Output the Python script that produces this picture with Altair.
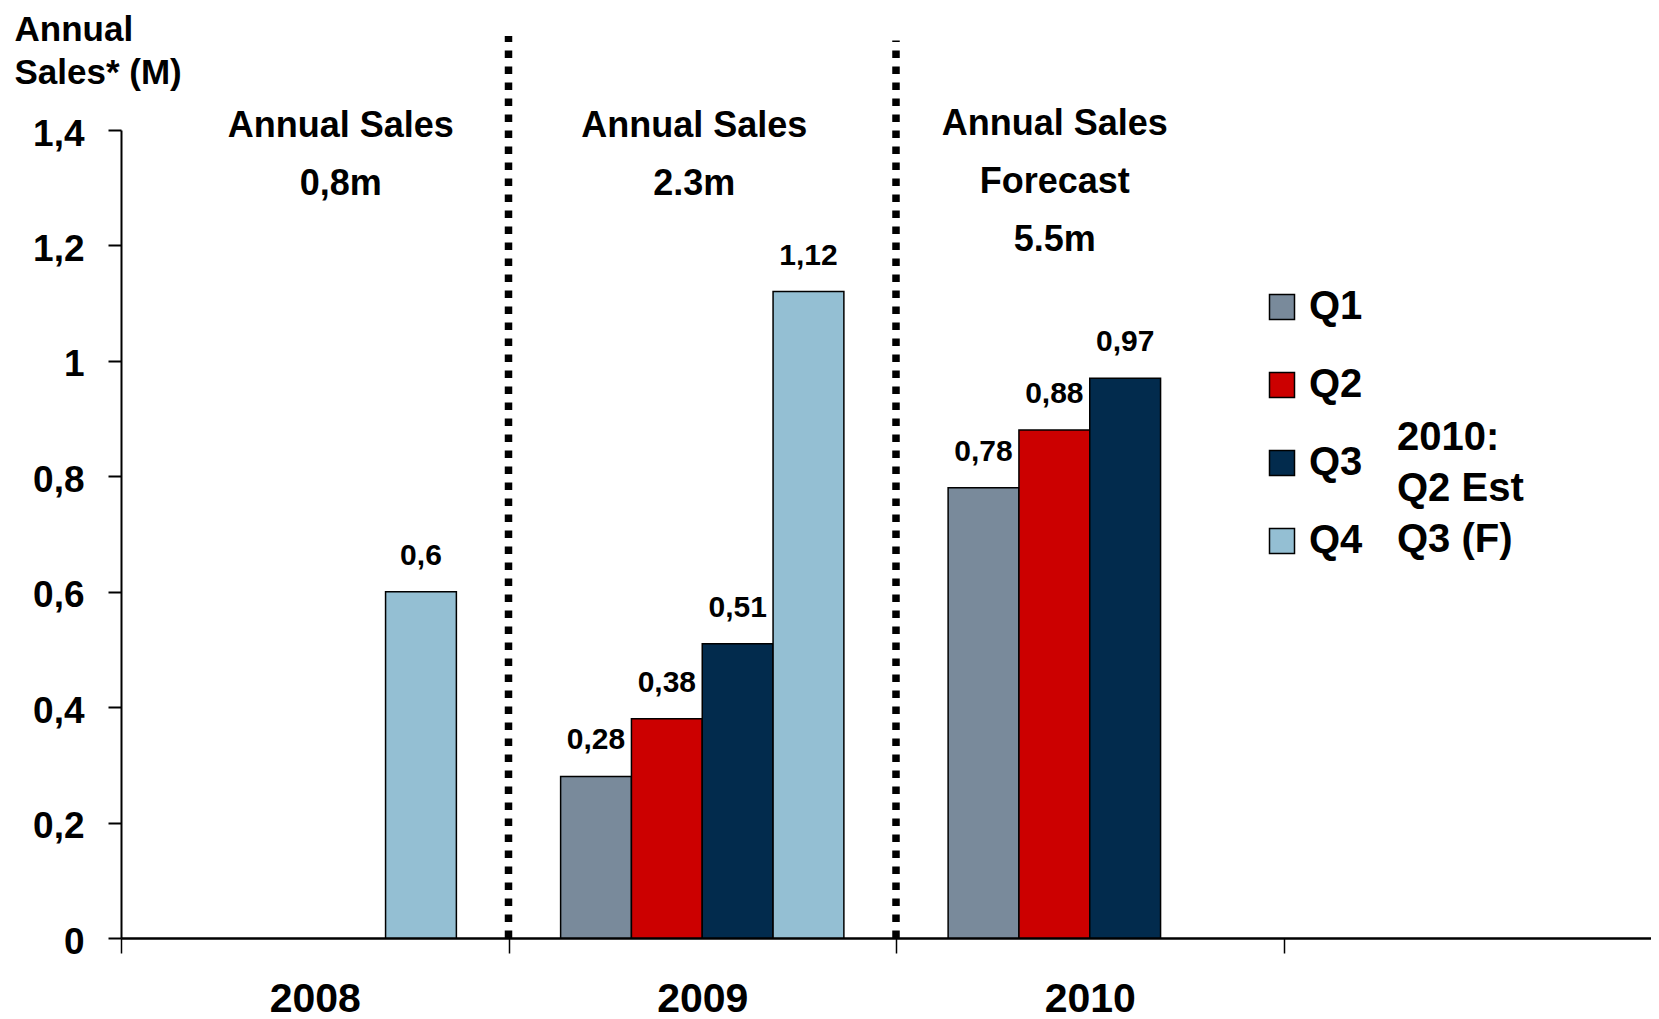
import altair as alt

FONT = "Liberation Sans"

# ---- data ----
bar_years = ["2008", "2009", "2009", "2009", "2009", "2010", "2010", "2010"]
bar_quarters = ["Q4", "Q1", "Q2", "Q3", "Q4", "Q1", "Q2", "Q3"]
bar_values = [0.6, 0.28, 0.38, 0.51, 1.12, 0.78, 0.88, 0.97]

x_domain = ["2008", "2009", "2010", " "]
quarters = ["Q1", "Q2", "Q3", "Q4"]
colors = ["#798a9b", "#cc0000", "#022b4d", "#94bfd3"]

y_ticks = [0, 0.2, 0.4, 0.6, 0.8, 1.0, 1.2, 1.4]

ann_years = ["2008", "2009", "2010"]
ann_lines = [["Annual Sales", "0,8m"],
             ["Annual Sales", "2.3m"],
             ["Annual Sales", "Forecast", "5.5m"]]
ann_level = [1.388, 1.388, 1.391]
ann_dx = [26, -8, -35]  # style offsets

divider_years = ["2009", "2010"]
divider_tops = [1.563, 1.555]

note_lines = ["2010:", "Q2 Est", "Q3 (F)"]

# ---- shared encodings ----
x_axis = alt.Axis(
    title=None, tickBand="extent", domainColor="black", domainWidth=2.5,
    tickColor="black", tickWidth=1.5, tickSize=15, labelFontSize=41,
    labelFont=FONT, labelFontWeight="bold", labelColor="black",
    labelPadding=26, labelAngle=0, grid=False,
)
x_scale = alt.Scale(domain=x_domain, range=[0, 1550], paddingInner=0, paddingOuter=0)
X = alt.X("year:N", scale=x_scale, axis=x_axis)
X_edge = alt.X("year:N", scale=x_scale, axis=x_axis, bandPosition=0)

y_axis = alt.Axis(
    values=y_ticks, title=["Annual", "Sales* (M)"], titleAngle=0,
    titleAlign="left", titleBaseline="alphabetic", titleX=-107, titleY=-90,
    titleFontSize=35, titleFont=FONT, titleFontWeight="bold", titleColor="black",
    titleLineHeight=43,
    labelExpr="replace(format(datum.value, '.1~f'), '.', ',')",
    labelFontSize=37, labelFont=FONT, labelFontWeight="bold", labelColor="black",
    labelPadding=24, labelOffset=4, labelFlush=False, labelOverlap=False,
    tickSize=13, tickWidth=2, tickColor="black", domainWidth=2, domainColor="black",
    grid=False,
)
y_scale = alt.Scale(domain=[0, 1.4], nice=False, zero=True)
Y = alt.Y("value:Q", scale=y_scale, axis=y_axis)

XO = alt.XOffset("quarter:N", scale=alt.Scale(domain=quarters, paddingInner=0, paddingOuter=0.736))

bars_data = alt.Data(values=[
    {"year": y, "quarter": q, "value": v}
    for y, q, v in zip(bar_years, bar_quarters, bar_values)
])

bars = alt.Chart(bars_data).mark_bar(stroke="black", strokeWidth=1.5).encode(
    x=X,
    xOffset=XO,
    y=Y,
    color=alt.Color(
        "quarter:N",
        scale=alt.Scale(domain=quarters, range=colors),
        legend=alt.Legend(
            orient="none", legendX=1141, legendY=157, title=None,
            symbolType="square", symbolSize=625, symbolStrokeColor="black",
            symbolStrokeWidth=1.5, symbolOpacity=1, labelFontSize=40,
            labelFont=FONT, labelFontWeight="bold", labelColor="black",
            labelOffset=7, rowPadding=38, padding=0,
        ),
    ),
)

labels = alt.Chart(bars_data).transform_calculate(
    label="replace(format(datum.value, '.2~f'), '.', ',')"
).mark_text(
    dy=-27, baseline="alphabetic", align="center", fontSize=30,
    font=FONT, fontWeight="bold", color="black",
).encode(x=X, xOffset=XO, y=Y, text="label:N")

rules_data = alt.Data(values=[
    {"year": y, "value": 0, "top": t} for y, t in zip(divider_years, divider_tops)
])
rules = alt.Chart(rules_data).mark_rule(
    color="black", strokeWidth=7.5, strokeDash=[7.5, 8.5]
).encode(x=X_edge, y=Y, y2="top:Q")

ann_layers = []
for yr, lines, lvl, dx in zip(ann_years, ann_lines, ann_level, ann_dx):
    d = alt.Data(values=[{"year": yr, "value": lvl, "lines": lines}])
    ann_layers.append(
        alt.Chart(d).mark_text(
            align="center", baseline="alphabetic", fontSize=36, lineHeight=58,
            font=FONT, fontWeight="bold", color="black", dx=dx,
        ).encode(x=X, y=Y, text="lines:N")
    )

note = alt.Chart(alt.Data(values=[{"lines": note_lines}])).mark_text(
    align="left", baseline="alphabetic", fontSize=40, lineHeight=51,
    font=FONT, fontWeight="bold", color="black",
).encode(x=alt.value(1276), y=alt.value(320), text="lines:N")

chart = alt.layer(rules, bars, labels, *ann_layers, note).properties(
    width=1530,
    height=808,
    padding={"left": 113, "top": 122, "right": 0, "bottom": 81},
    autosize=alt.AutoSizeParams(type="none"),
).configure(background="white").configure_view(stroke=None)

chart.save("out.html", embed_options={"renderer": "svg", "actions": False})
